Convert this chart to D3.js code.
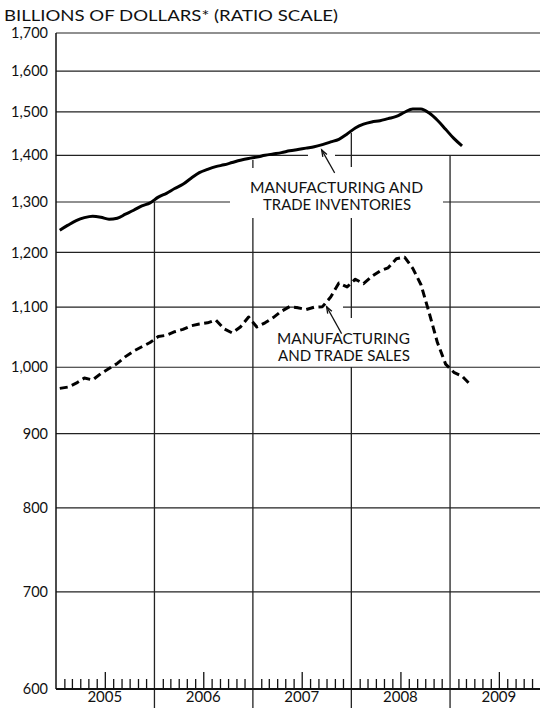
<!DOCTYPE html>
<html><head><meta charset="utf-8">
<script src="https://cdn.jsdelivr.net/npm/d3@7"></script>
<style>
body{margin:0;background:#fff}
svg{display:block}
text{font-family:Lato,"Open Sans",sans-serif;fill:#111}
</style>
</head><body>
<svg id="c" width="540" height="713"></svg>
<script>
// ---- data ----
const startYear = 2005;
const years = [2005, 2006, 2007, 2008, 2009];
const yTicks = [600, 700, 800, 900, 1000, 1100, 1200, 1300, 1400, 1500, 1600, 1700];
const title = "BILLIONS OF DOLLARS* (RATIO SCALE)";
// monthly, Jan 2005 ->
const inventories = [1243,1253,1262,1268,1271,1269,1265,1267,1275,1283,1292,1298,
  1310,1318,1328,1337,1350,1362,1369,1375,1379,1384,1389,1393,
  1396,1400,1403,1406,1410,1413,1416,1419,1424,1430,1436,1448,
  1462,1471,1476,1479,1484,1489,1499,1507,1507,1497,1480,1459,
  1438,1421];
const sales = [967,969,975,983,980,990,998,1006,1017,1026,1033,1040,
  1050,1052,1058,1062,1068,1071,1073,1078,1063,1056,1066,1083,
  1066,1073,1082,1093,1101,1099,1096,1100,1101,1118,1143,1136,
  1150,1142,1155,1165,1171,1188,1191,1170,1140,1090,1040,1005,
  992,986,973];
const invLabel = ["MANUFACTURING AND", "TRADE INVENTORIES"];
const salesLabel = ["MANUFACTURING", "AND TRADE SALES"];

// ---- layout ----
const W = 540, H = 713;
const X0 = 56, BOTTOM = 689, TOP = 33;
const svg = d3.select("#c");
const x = d3.scaleUtc().domain([Date.UTC(startYear,0,1), Date.UTC(2010,0,1)]).range([X0, 548.5]);
const y = d3.scaleLog().domain([600, 1700]).range([BOTTOM, TOP]);
const md = i => new Date(Date.UTC(startYear, 0, 15) + i * 30.4375 * 864e5);

// horizontal gridlines (with gaps for labels)
const hGaps = {1400: [[308,335]], 1300: [[230,443]], 1100: [[298,343]]};
yTicks.forEach(v => {
  if (v === 600) return;
  let segs = [[X0, W]];
  (hGaps[v] || []).forEach(g => {
    segs = segs.flatMap(s => [[s[0], g[0]], [g[1], s[1]]]);
  });
  segs.forEach(s => svg.append("line")
    .attr("x1", s[0]).attr("x2", s[1]).attr("y1", y(v)).attr("y2", y(v))
    .attr("stroke", "#222").attr("stroke-width", 1.2));
});

// vertical year lines
const vSegs = {
  2006: [[y(1300), 708]],
  2007: [[160, 168], [218, 708]],
  2008: [[133, 167], [218, 318], [367, 708]],
  2009: [[y(1400), 708]]
};
Object.keys(vSegs).forEach(yr => {
  const xx = x(Date.UTC(+yr, 0, 1));
  vSegs[yr].forEach(s => svg.append("line")
    .attr("x1", xx).attr("x2", xx).attr("y1", s[0]).attr("y2", s[1])
    .attr("stroke", "#222").attr("stroke-width", 1.3));
});

// left axis line
svg.append("line").attr("x1", X0).attr("x2", X0).attr("y1", TOP).attr("y2", BOTTOM)
  .attr("stroke", "#111").attr("stroke-width", 1.5);

// y axis labels
const ya = svg.append("g").attr("transform", `translate(${X0},0)`)
  .call(d3.axisLeft(y).tickValues(yTicks).tickFormat(d3.format(",")).tickSize(0).tickPadding(8));
ya.select(".domain").remove();
ya.selectAll("text").attr("font-size", 14.5).attr("font-family", "Lato").attr("fill", "#111");

// bottom axis: month ticks
const monthTicks = d3.utcMonth.range(new Date(Date.UTC(startYear,0,1)), new Date(Date.UTC(2010,0,1)))
  .filter(d => d.getUTCMonth() !== 0 && x(d) < W);
const xa = svg.append("g").attr("transform", `translate(0,${BOTTOM})`)
  .call(d3.axisBottom(x).tickValues(monthTicks).tickFormat("").tickSizeOuter(0).tickSize(-10));
xa.select(".domain").remove();
xa.selectAll(".tick line").attr("stroke", "#111").attr("stroke-width", 1.3)
  .attr("y2", d => d.getUTCMonth() === 6 ? -17 : -10);
svg.append("line").attr("x1", X0).attr("x2", W).attr("y1", BOTTOM).attr("y2", BOTTOM)
  .attr("stroke", "#111").attr("stroke-width", 2);

// year labels
years.forEach(yr => {
  svg.append("text").attr("x", x(Date.UTC(yr, 6, 1))).attr("y", 702)
    .attr("text-anchor", "middle").attr("font-size", 15).text(yr);
});

// title
svg.append("text").attr("x", 4).attr("y", 21).attr("font-size", 14.5)
  .attr("textLength", 334).attr("lengthAdjust", "spacingAndGlyphs").text(title);

// series
const invLine = d3.line().x((d, i) => x(md(i))).y(d => y(d)).curve(d3.curveMonotoneX);
svg.append("path").datum(inventories).attr("d", invLine)
  .attr("fill", "none").attr("stroke", "#000").attr("stroke-width", 3).attr("stroke-linejoin", "round");
const salesLine = d3.line().x((d, i) => x(md(i))).y(d => y(d)).curve(d3.curveLinear);
svg.append("path").datum(sales).attr("d", salesLine)
  .attr("fill", "none").attr("stroke", "#000").attr("stroke-width", 3)
  .attr("stroke-dasharray", "8,4.5").attr("stroke-linejoin", "round");

// labels
function label(lines, xs, ys, lens) {
  lines.forEach((t, k) => svg.append("text").attr("x", xs[k]).attr("y", ys[k])
    .attr("font-size", 15.5).attr("textLength", lens[k]).attr("lengthAdjust", "spacingAndGlyphs")
    .text(t));
}
label(invLabel, [250, 263], [193, 210], [173, 148]);
label(salesLabel, [277, 278], [344, 361], [133, 132]);

// arrows
function arrow(tx, ty, fx, fy) {
  svg.append("line").attr("x1", fx).attr("y1", fy).attr("x2", tx).attr("y2", ty)
    .attr("stroke", "#111").attr("stroke-width", 1.2);
  const a = Math.atan2(fy - ty, fx - tx), L = 7, s = 0.35;
  svg.append("path")
    .attr("d", `M${tx + L*Math.cos(a - s)},${ty + L*Math.sin(a - s)}L${tx},${ty}L${tx + L*Math.cos(a + s)},${ty + L*Math.sin(a + s)}`)
    .attr("fill", "none").attr("stroke", "#111").attr("stroke-width", 1.3);
}
const tipInv = [x(md(31.9)), y(1421) + 4];
arrow(tipInv[0], tipInv[1], tipInv[0] + 13, tipInv[1] + 23);
const tipSales = [x(md(32.5)), y(1108) + 4];
arrow(tipSales[0], tipSales[1], tipSales[0] + 15, tipSales[1] + 27);
</script>
</body></html>
